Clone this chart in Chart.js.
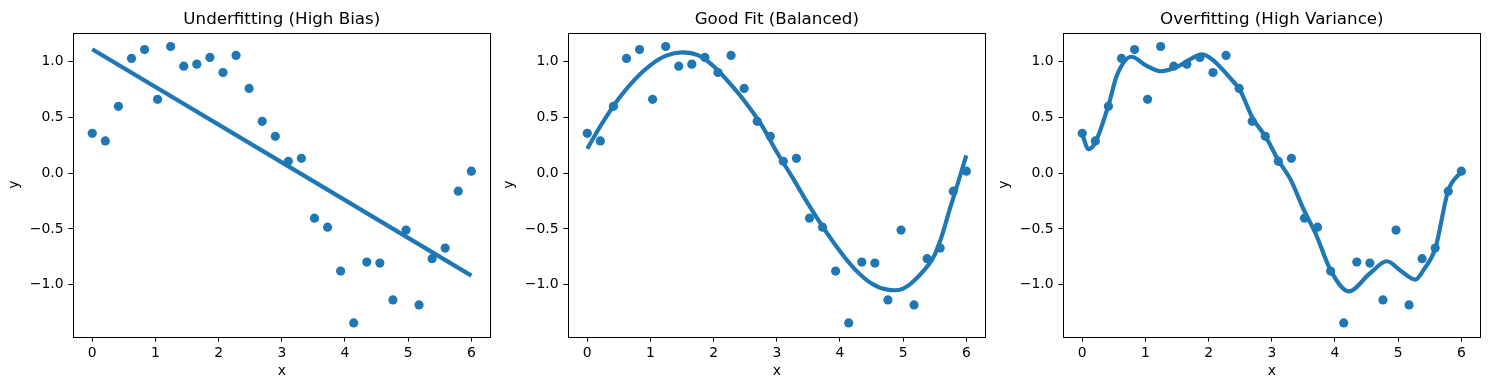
<!DOCTYPE html>
<html>
<head>
<meta charset="utf-8">
<script src="https://cdn.jsdelivr.net/npm/chart.js@4.4.1/dist/chart.umd.min.js"></script>
<style>
  html, body { margin: 0; padding: 0; background: #fff; }
  #wrap { position: relative; width: 1489px; height: 390px; }
  .panel { position: absolute; top: 0; width: 495px; height: 390px; }
</style>
</head>
<body>
<div id="wrap">
  <div class="panel" style="left:0px"><canvas id="c0" width="495" height="390"></canvas></div>
  <div class="panel" style="left:495px"><canvas id="c1" width="495" height="390"></canvas></div>
  <div class="panel" style="left:990px"><canvas id="c2" width="495" height="390"></canvas></div>
</div>
<script>
// noisy samples (same in all three panels)
var xs = [0, 0.207, 0.414, 0.621, 0.828, 1.034, 1.241, 1.448, 1.655, 1.862,
          2.069, 2.276, 2.483, 2.690, 2.897, 3.103, 3.310, 3.517, 3.724, 3.931,
          4.138, 4.345, 4.552, 4.759, 4.966, 5.172, 5.379, 5.586, 5.793, 6.0];
var ys = [0.358, 0.290, 0.600, 1.030, 1.110, 0.663, 1.137, 0.961, 0.979, 1.039,
          0.904, 1.057, 0.761, 0.466, 0.331, 0.107, 0.134, -0.403, -0.484, -0.878,
          -1.343, -0.797, -0.806, -1.137, -0.510, -1.182, -0.767, -0.672, -0.161, 0.018];

// fitted curves
var underX = [0, 6];
var underY = [1.113, -0.919];

var goodX = [0, 0.25, 0.5, 0.75, 1.0, 1.25, 1.5, 1.75, 2.0, 2.25, 2.5, 2.75, 3.0,
             3.25, 3.5, 3.75, 4.0, 4.25, 4.5, 4.75, 5.0, 5.25, 5.5, 5.75, 6.0];
var goodY = [0.22, 0.46, 0.67, 0.84, 0.97, 1.055, 1.085, 1.06, 0.96, 0.81, 0.64, 0.44, 0.19,
             -0.04, -0.28, -0.50, -0.70, -0.87, -0.99, -1.045, -1.035, -0.92, -0.73, -0.30, 0.16];

var overX = [0, 0.10, 0.21, 0.41, 0.55, 0.78, 1.0, 1.25, 1.5, 1.7, 1.9, 2.1, 2.3, 2.5, 2.7,
             2.9, 3.1, 3.3, 3.5, 3.7, 3.93, 4.22, 4.55, 4.82, 5.05, 5.27, 5.4, 5.59, 5.79, 6.0];
var overY = [0.35, 0.215, 0.28, 0.60, 0.88, 1.045, 0.97, 0.915, 0.955, 1.02, 1.066, 1.0, 0.88, 0.74, 0.49,
             0.33, 0.12, -0.06, -0.32, -0.55, -0.87, -1.06, -0.90, -0.79, -0.88, -0.955, -0.87, -0.67, -0.16, 0.015];

var titles = ['Underfitting (High Bias)', 'Good Fit (Balanced)', 'Overfitting (High Variance)'];
var xTicks = [0, 1, 2, 3, 4, 5, 6];
var yTicks = [-1.0, -0.5, 0.0, 0.5, 1.0];

var fits = [[underX, underY], [goodX, goodY], [overX, overY]];
var smooth = ['default', 'default', 'monotone'];
var blue = '#1f77b4';

Chart.defaults.font.family = "'DejaVu Sans', sans-serif";
Chart.defaults.color = '#000';

function pts(a, b) {
  var out = [];
  for (var i = 0; i < a.length; i++) out.push({x: a[i], y: b[i]});
  return out;
}

// black frame round the plot area and the title centred over it, like matplotlib
var frame = {
  id: 'frame',
  afterDraw: function(chart, args, opts) {
    var a = chart.chartArea, ctx = chart.ctx;
    ctx.save();
    ctx.strokeStyle = '#000';
    ctx.lineWidth = 1;
    ctx.strokeRect(Math.round(a.left) + 0.5, Math.round(a.top) + 0.5,
                   Math.round(a.right - a.left), Math.round(a.bottom - a.top));
    ctx.fillStyle = '#000';
    ctx.font = "16.7px 'DejaVu Sans', sans-serif";
    ctx.textAlign = 'center';
    ctx.textBaseline = 'alphabetic';
    ctx.fillText(opts.text, (a.left + a.right) / 2, a.top - 8.3);
    ctx.restore();
  }
};

for (var k = 0; k < 3; k++) {
  new Chart(document.getElementById('c' + k), {
    type: 'scatter',
    data: {
      datasets: [
        {
          data: pts(xs, ys),
          backgroundColor: blue,
          borderColor: blue,
          pointRadius: 4.6,
          pointHoverRadius: 4.6,
          borderWidth: 0
        },
        {
          type: 'line',
          data: pts(fits[k][0], fits[k][1]),
          borderColor: blue,
          borderWidth: 4.2,
          pointRadius: 0,
          fill: false,
          tension: 0.4,
          cubicInterpolationMode: smooth[k],
          showLine: true
        }
      ]
    },
    options: {
      responsive: false,
      animation: false,
      events: [],
      layout: { padding: { left: 0, right: 4.7, top: 32.7, bottom: 0 } },
      plugins: {
        legend: { display: false },
        tooltip: { enabled: false },
        title: { display: false },
        frame: { text: titles[k] }
      },
      scales: {
        x: {
          type: 'linear',
          min: -0.3,
          max: 6.3,
          afterFit: function(s) { s.height = 53.3; },
          afterBuildTicks: function(s) { s.ticks = xTicks.map(function(v) { return {value: v}; }); },
          ticks: {
            font: { size: 13.9 },
            padding: 3.5,
            maxRotation: 0,
            callback: function(v) { return String(v); }
          },
          grid: { drawOnChartArea: false, drawTicks: true, tickLength: 4.9, color: '#000', lineWidth: 1 },
          border: { display: false },
          title: { display: true, text: 'x', font: { size: 13.9 }, padding: { top: 0, bottom: 10.2 } }
        },
        y: {
          type: 'linear',
          min: -1.467,
          max: 1.261,
          afterFit: function(s) { s.width = 73.3; },
          afterBuildTicks: function(s) { s.ticks = yTicks.map(function(v) { return {value: v}; }); },
          ticks: {
            font: { size: 13.9 },
            padding: 4.9,
            callback: function(v) { return v.toFixed(1).replace('-', '\u2212'); }
          },
          grid: { drawOnChartArea: false, drawTicks: true, tickLength: 4.9, color: '#000', lineWidth: 1 },
          border: { display: false },
          title: { display: true, text: 'y', font: { size: 13.9 }, padding: { top: 5.8, bottom: 0 } }
        }
      }
    },
    plugins: [frame]
  });
}
</script>
</body>
</html>
